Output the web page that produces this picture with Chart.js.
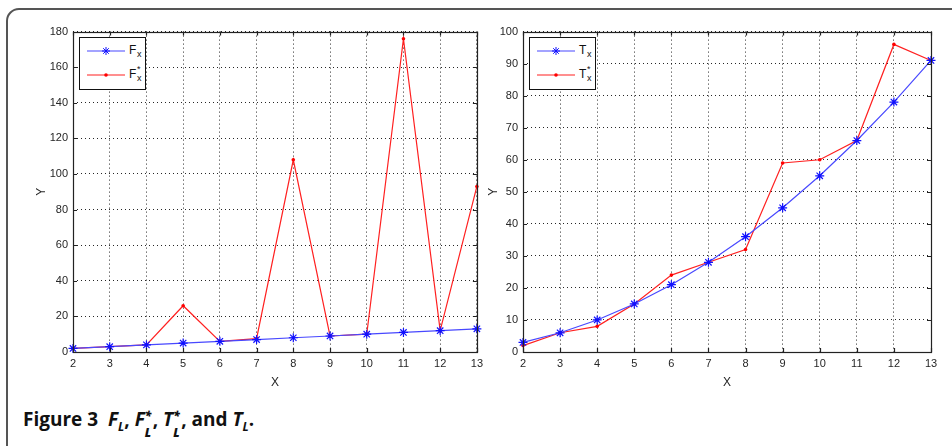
<!DOCTYPE html>
<html>
<head>
<meta charset="utf-8">
<script src="https://cdn.jsdelivr.net/npm/chart.js@4.4.1/dist/chart.umd.min.js"></script>
<style>
html, body { margin: 0; padding: 0; background: #fff; overflow: hidden; width: 952px; height: 446px; }
#frame { position: absolute; left: 6px; top: 8px; width: 1000px; height: 500px; border: 2px solid #555; border-top-left-radius: 13px; box-sizing: border-box; }
canvas { position: absolute; }
.legend { position: absolute; width: 67px; height: 53px; border: 1px solid #111; background: #fff; box-sizing: border-box; font-family: "Liberation Sans", Arial, sans-serif; font-size: 12px; color: #111; }
.legend svg { position: absolute; left: 6px; }
.legend .lbl { position: absolute; left: 49px; line-height: 12px; }
.legend .sb { position: absolute; font-size: 9px; line-height: 9px; }
#cap { position: absolute; left: 23px; top: 408px; font-family: "Open Sans", "Noto Sans", sans-serif; font-weight: bold; font-size: 19px; line-height: 22px; color: #111; white-space: nowrap; }
#cap i { font-style: italic; }
#cap .st { display: inline-block; position: relative; width: 8px; height: 1px; }
#cap .st b { position: absolute; left: 0; font-size: 12px; line-height: 12px; }
#cap sub { font-size: 12px; }
</style>
</head>
<body>
<div id="frame"></div>
<canvas id="chartF" width="468" height="370" style="left:20px;top:20px"></canvas>
<canvas id="chartT" width="472" height="370" style="left:480px;top:20px"></canvas>

<div class="legend" style="left:79px;top:37px">
  <svg style="top:8px" width="40" height="10">
    <line x1="1" y1="5" x2="39" y2="5" stroke="#4848ff" stroke-width="1.2"/>
    <g stroke="#1010ff" stroke-width="1"><line x1="16" y1="5" x2="24" y2="5"/><line x1="20" y1="1" x2="20" y2="9"/><line x1="17.2" y1="2.2" x2="22.8" y2="7.8"/><line x1="17.2" y1="7.8" x2="22.8" y2="2.2"/></g>
  </svg>
  <span class="lbl" style="top:6px">F<span class="sb" style="left:8px;top:6px">x</span></span>
  <svg style="top:32px" width="40" height="10">
    <line x1="1" y1="5" x2="39" y2="5" stroke="#ff2020" stroke-width="1.2"/>
    <circle cx="20" cy="5" r="1.8" fill="#ff0000"/>
  </svg>
  <span class="lbl" style="top:30px">F<span class="sb" style="left:8px;top:-3px">*</span><span class="sb" style="left:8px;top:6px">x</span></span>
</div>

<div class="legend" style="left:529px;top:37px">
  <svg style="top:8px" width="40" height="10">
    <line x1="1" y1="5" x2="39" y2="5" stroke="#4848ff" stroke-width="1.2"/>
    <g stroke="#1010ff" stroke-width="1"><line x1="16" y1="5" x2="24" y2="5"/><line x1="20" y1="1" x2="20" y2="9"/><line x1="17.2" y1="2.2" x2="22.8" y2="7.8"/><line x1="17.2" y1="7.8" x2="22.8" y2="2.2"/></g>
  </svg>
  <span class="lbl" style="top:6px">T<span class="sb" style="left:8px;top:6px">x</span></span>
  <svg style="top:32px" width="40" height="10">
    <line x1="1" y1="5" x2="39" y2="5" stroke="#ff2020" stroke-width="1.2"/>
    <circle cx="20" cy="5" r="1.8" fill="#ff0000"/>
  </svg>
  <span class="lbl" style="top:30px">T<span class="sb" style="left:8px;top:-3px">*</span><span class="sb" style="left:8px;top:6px">x</span></span>
</div>

<div id="cap">Figure 3&nbsp; <i>F<sub>L</sub></i>, <i>F<span class="st"><b style="top:-15px">*</b><b style="top:2px">L</b></span></i>, <i>T<span class="st"><b style="top:-15px">*</b><b style="top:2px">L</b></span></i>, and <i>T<sub>L</sub></i>.</div>

<script>
// x positions shared by both plots
const xValues = [2, 3, 4, 5, 6, 7, 8, 9, 10, 11, 12, 13];

// left plot
const fx = [2, 3, 4, 5, 6, 7, 8, 9, 10, 11, 12, 13];
const fxStar = [2, 3, 4, 26, 6, 7.5, 108, 9, 10, 176, 12, 93];

// right plot
const tx = [3, 6, 10, 15, 21, 28, 36, 45, 55, 66, 78, 91];
const txStar = [2, 6, 8, 15, 24, 28, 32, 59, 60, 66, 96, 91];

const tickFont = { family: '"Liberation Sans", Arial, sans-serif', size: 11 };
const tickColor = '#262626';

function toPoints(ys) {
    return xValues.map((x, i) => ({ x: x, y: ys[i] }));
}

// matlab style box with inward ticks
const matlabBox = {
    id: 'matlabBox',
    afterDatasetsDraw(chart) {
        const { ctx, chartArea: a, scales } = chart;
        ctx.save();
        ctx.strokeStyle = '#222';
        ctx.lineWidth = 1.2;
        ctx.strokeRect(Math.round(a.left) + 0.5, Math.round(a.top) + 0.5, Math.round(a.right - a.left), Math.round(a.bottom - a.top));
        ctx.beginPath();
        scales.x.ticks.forEach(t => {
            const px = Math.round(scales.x.getPixelForValue(t.value)) + 0.5;
            ctx.moveTo(px, a.bottom); ctx.lineTo(px, a.bottom - 4);
            ctx.moveTo(px, a.top); ctx.lineTo(px, a.top + 4);
        });
        scales.y.ticks.forEach(t => {
            const py = Math.round(scales.y.getPixelForValue(t.value)) + 0.5;
            ctx.moveTo(a.left, py); ctx.lineTo(a.left + 4, py);
            ctx.moveTo(a.right, py); ctx.lineTo(a.right - 4, py);
        });
        ctx.stroke();
        ctx.restore();
    }
};

function makeChart(id, blue, red, yMax, yStep, yWidth, yTitlePad, rightPad) {
    const ctx = document.getElementById(id).getContext('2d');
    return new Chart(ctx, {
        type: 'line',
        data: {
            datasets: [{
                data: toPoints(blue),
                borderColor: '#4848ff',
                borderWidth: 1.2,
                pointStyle: 'star',
                pointRadius: 4.5,
                pointBorderColor: '#1010ff',
                pointBorderWidth: 1.2,
                clip: false
            }, {
                data: toPoints(red),
                borderColor: '#ff2020',
                borderWidth: 1.2,
                pointStyle: 'circle',
                pointRadius: 1.8,
                pointBackgroundColor: '#ff0000',
                pointBorderWidth: 0,
                clip: false
            }]
        },
        options: {
            responsive: false,
            animation: false,
            layout: { padding: { top: 11, right: rightPad, left: 0, bottom: 0 } },
            plugins: { legend: { display: false }, tooltip: { enabled: false } },
            scales: {
                x: {
                    type: 'linear',
                    min: 2,
                    max: 13,
                    afterFit: s => { s.height = 38; },
                    ticks: { stepSize: 1, font: tickFont, color: tickColor, padding: 5, maxRotation: 0 },
                    grid: { color: 'rgba(0,0,0,0.85)', borderDash: [1, 3], drawTicks: false },
                    border: { display: false, dash: [1, 3] },
                    title: { display: true, text: 'X', font: { family: tickFont.family, size: 12 }, color: tickColor, padding: { top: 6, bottom: 0 } }
                },
                y: {
                    min: 0,
                    max: yMax,
                    afterFit: s => { s.width = yWidth; },
                    ticks: { stepSize: yStep, font: tickFont, color: tickColor, padding: 5 },
                    grid: { color: 'rgba(0,0,0,0.85)', borderDash: [1, 3], drawTicks: false },
                    border: { display: false, dash: [1, 3] },
                    title: { display: true, text: 'Y', font: { family: tickFont.family, size: 12 }, color: tickColor, padding: { top: yTitlePad, bottom: 0 } }
                }
            }
        },
        plugins: [matlabBox]
    });
}

makeChart('chartF', fx, fxStar, 180, 20, 53, 14, 8);
makeChart('chartT', tx, txStar, 100, 10, 43, 6, 21);
</script>
</body>
</html>
